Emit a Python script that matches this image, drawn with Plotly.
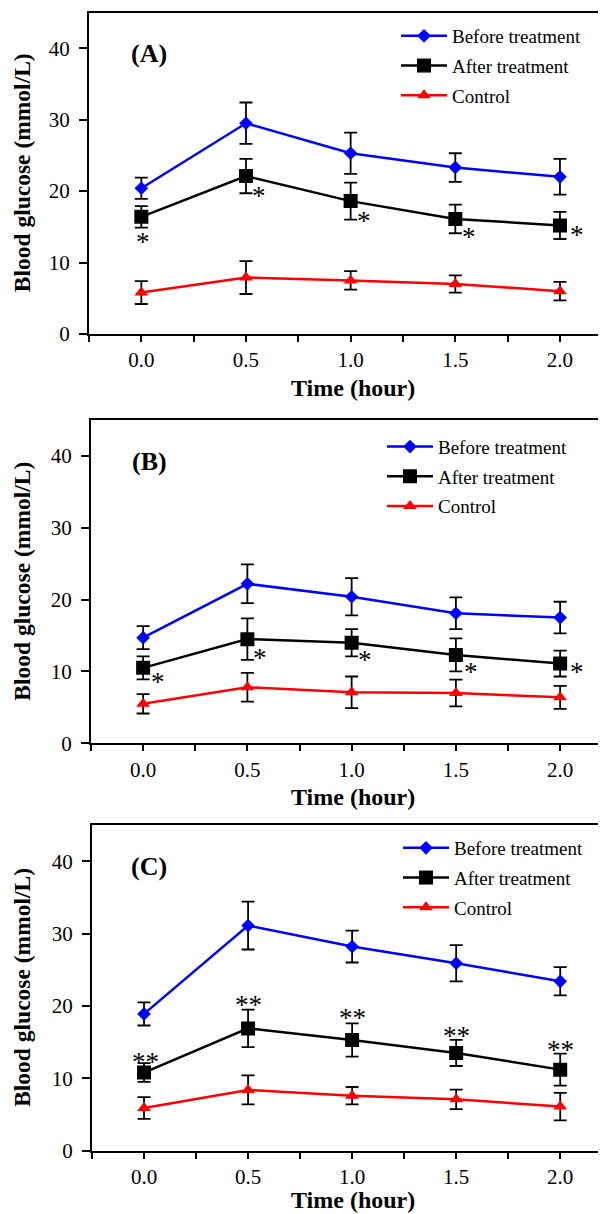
import plotly.graph_objects as go

# ---------------- data ----------------
time_h = [0.0, 0.5, 1.0, 1.5, 2.0]
time_ticks = ["0.0", "0.5", "1.0", "1.5", "2.0"]
series_names = ["Before treatment", "After treatment", "Control"]

# Panel A
a_before = [20.4, 29.5, 25.3, 23.3, 22.0]
a_before_sd = [1.5, 2.9, 2.9, 2.0, 2.5]
a_after = [16.4, 22.1, 18.6, 16.1, 15.2]
a_after_sd = [1.5, 2.4, 2.6, 2.0, 1.9]
a_control = [5.8, 7.9, 7.5, 7.0, 6.0]
a_control_sd = [1.6, 2.3, 1.3, 1.2, 1.3]
a_stars = ["*", "*", "*", "*", "*"]

# Panel B
b_before = [14.7, 22.2, 20.4, 18.1, 17.5]
b_before_sd = [1.6, 2.7, 2.6, 2.2, 2.2]
b_after = [10.5, 14.5, 14.0, 12.3, 11.1]
b_after_sd = [1.6, 2.9, 1.9, 2.3, 1.8]
b_control = [5.5, 7.8, 7.1, 7.0, 6.4]
b_control_sd = [1.35, 2.0, 2.2, 1.85, 1.6]
b_stars = ["*", "*", "*", "*", "*"]

# Panel C
c_before = [18.9, 31.1, 28.2, 25.9, 23.4]
c_before_sd = [1.6, 3.3, 2.2, 2.5, 1.95]
c_after = [10.8, 16.9, 15.3, 13.5, 11.2]
c_after_sd = [1.3, 2.6, 2.3, 1.8, 2.2]
c_control = [5.9, 8.4, 7.6, 7.1, 6.1]
c_control_sd = [1.5, 2.0, 1.2, 1.35, 1.9]
c_stars = ["**", "**", "**", "**", "**"]

panel_labels = ["(A)", "(B)", "(C)"]

# ---------------- style / layout ----------------
WIN_W, WIN_H = 606, 1214
OFF = 8  # default body margin of the page
W, H = WIN_W - OFF, WIN_H - OFF
FONT = "Liberation Serif, Times New Roman, serif"
colors = ["#0000FF", "#000000", "#FF0000"]
symbols = ["diamond", "square", "triangle-up"]
msizes = [10.5, 14, 12]


def px_x(x):
    return (x - OFF) / W


def px_y(y):
    return 1 - (y - OFF) / H


# pixel geometry of each panel (window px): left, top, bottom
panels_px = [(89, 12.5, 334), (91, 420, 743.3), (92, 825, 1150.7)]
xtitle_gap = [54, 54, 49]
# star offsets (px, relative to point) per panel: dx, dy(up positive)
star_dx = [[2, 13, 13, 14, 17], [15, 13, 13, 15, 17], [1, 0, 0, 0, 0]]
star_dy = [[-20, -15, -15, -13, -5], [-9, -14, -12, -12, -3], [16, 28, 27, 22, 25]]
# legend positions (window px): line left, first row center
legend_px = [(402, 36), (388, 446.7), (404, 848)]

panels = [
    (a_before, a_before_sd, a_after, a_after_sd, a_control, a_control_sd, a_stars),
    (b_before, b_before_sd, b_after, b_after_sd, b_control, b_control_sd, b_stars),
    (c_before, c_before_sd, c_after, c_after_sd, c_control, c_control_sd, c_stars),
]

fig = go.Figure()
annotations = []
layout_axes = {}

for p, (vals, (left, top, bot), lab) in enumerate(zip(panels, panels_px, panel_labels)):
    xs = "" if p == 0 else str(p + 1)
    xref, yref = "x" + xs, "y" + xs
    lg = "legend" if p == 0 else "legend" + str(p + 1)
    ys = [vals[0], vals[2], vals[4]]
    sds = [vals[1], vals[3], vals[5]]
    for i in range(3):
        fig.add_trace(go.Scatter(
            x=time_h, y=ys[i], name=series_names[i], mode="lines+markers",
            xaxis=xref, yaxis=yref, legend=lg, legendgroup=f"{p}-{i}",
            line=dict(color=colors[i], width=2.5),
            marker=dict(symbol=symbols[i], size=msizes[i], color=colors[i],
                        line=dict(width=0)),
            error_y=dict(type="data", array=sds[i], visible=True,
                         color="#000000", thickness=1.8, width=6.5),
        ))
    # axes
    layout_axes["xaxis" + xs] = dict(
        domain=[px_x(left), 1.0], range=[-0.25, 2.22], anchor=yref,
        automargin=False,
        tickvals=time_h, ticktext=time_ticks, ticks="outside", ticklen=6,
        tickwidth=1.5, tickcolor="black", showline=True, linewidth=2,
        linecolor="black", mirror=True, showgrid=False, zeroline=False,
        ticklabelstandoff=0,
        tickfont=dict(family=FONT, size=21, color="black"),
        minor=dict(tickvals=[-0.25, 0.25, 0.75, 1.25, 1.75], ticks="outside",
                   ticklen=6, tickwidth=1.5, tickcolor="black", showgrid=False),
    )
    layout_axes["yaxis" + xs] = dict(
        domain=[px_y(bot), px_y(top)], range=[0, 45], anchor=xref,
        automargin=False,
        tickvals=[0, 10, 20, 30, 40], ticks="outside", ticklen=8,
        tickwidth=1.5, tickcolor="black", showline=True, linewidth=2,
        linecolor="black", mirror=False, showgrid=False, zeroline=False,
        ticklabelstandoff=5,
        tickfont=dict(family=FONT, size=21, color="black"),
    )
    # legend
    lx, ly = legend_px[p]
    layout_axes[lg] = dict(
        x=px_x(lx - 6), y=px_y(ly - 19), xanchor="left", yanchor="top",
        bgcolor="rgba(0,0,0,0)", borderwidth=0, itemwidth=46,
        tracegroupgap=2, traceorder="grouped",
        font=dict(family=FONT, size=19, color="black"),
    )
    # panel label
    annotations.append(dict(
        text="<b>" + lab + "</b>", xref="paper", yref="paper",
        x=px_x(149), y=px_y(top + 41), showarrow=False,
        font=dict(family=FONT, size=26, color="black"),
        xanchor="center", yanchor="middle",
    ))
    # axis titles
    annotations.append(dict(
        text="<b>Time (hour)</b>", xref="paper", yref="paper",
        x=px_x(353), y=px_y(bot + xtitle_gap[p]), showarrow=False,
        font=dict(family=FONT, size=24, color="black"),
        xanchor="center", yanchor="middle",
    ))
    annotations.append(dict(
        text="<b>Blood glucose (mmol/L)</b>", xref="paper", yref="paper",
        x=px_x(22), y=px_y((top + bot) / 2), showarrow=False, textangle=-90,
        font=dict(family=FONT, size=23.5, color="black"),
        xanchor="center", yanchor="middle",
    ))
    # significance stars
    for k, t in enumerate(time_h):
        annotations.append(dict(
            text=vals[6][k], xref=xref, yref=yref, x=t, y=vals[2][k],
            xshift=star_dx[p][k], yshift=star_dy[p][k] - 5, showarrow=False,
            font=dict(family=FONT, size=27, color="black"),
            xanchor="center", yanchor="middle",
        ))

fig.update_layout(
    template="none",
    width=W, height=H, margin=dict(l=0, r=0, t=0, b=0, autoexpand=False),
    paper_bgcolor="white", plot_bgcolor="white",
    annotations=annotations, showlegend=True, **layout_axes,
)

fig.write_html("out.html")
